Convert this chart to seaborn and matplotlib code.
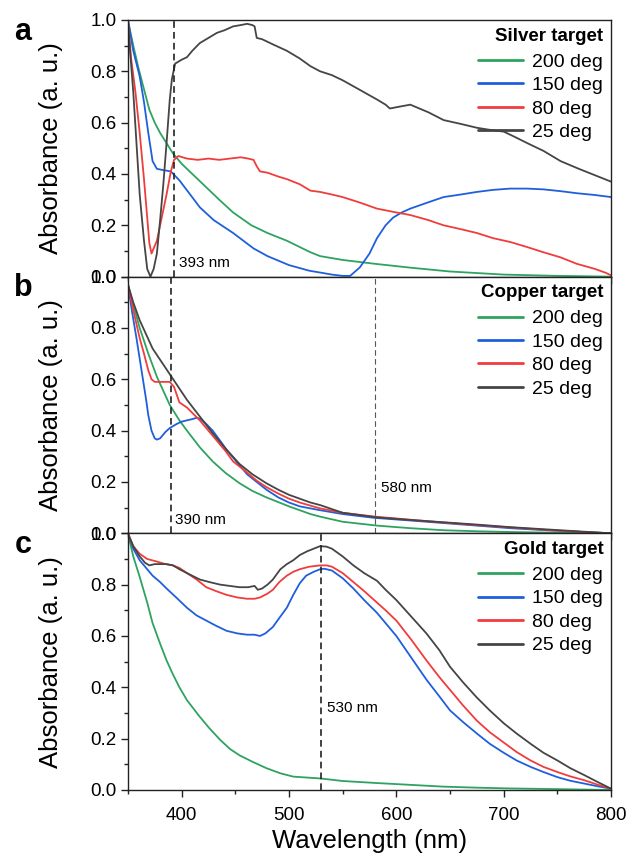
import numpy as np
import pandas as pd
import matplotlib
matplotlib.use("Agg")
import matplotlib.pyplot as plt
import seaborn as sns
from matplotlib.ticker import MultipleLocator, FormatStrFormatter

# --- Silver target ---
ag_x_200 = [350, 355, 360, 365, 370, 375, 380, 386, 392, 400, 410, 420, 435, 448, 465, 480, 498, 520, 529, 550, 580, 613, 650, 700, 750, 800]
ag_y_200 = [1.00, 0.90, 0.81, 0.73, 0.65, 0.60, 0.56, 0.52, 0.48, 0.44, 0.40, 0.36, 0.30, 0.25, 0.20, 0.17, 0.14, 0.095, 0.08, 0.065, 0.05, 0.035, 0.02, 0.008, 0.003, 0.0]

ag_x_150 = [350, 355, 361, 365, 369, 373, 377, 383, 390, 398, 408, 417, 430, 448, 467, 480, 500, 519, 529, 540, 550, 557, 566, 575, 582, 590, 597, 605, 613, 630, 644, 660, 675, 690, 706, 722, 737, 753, 768, 785, 800]
ag_y_150 = [1.00, 0.88, 0.78, 0.68, 0.56, 0.45, 0.42, 0.415, 0.41, 0.375, 0.32, 0.27, 0.22, 0.17, 0.11, 0.08, 0.045, 0.023, 0.016, 0.008, 0.003, 0.003, 0.036, 0.09, 0.15, 0.20, 0.23, 0.25, 0.265, 0.29, 0.31, 0.32, 0.33, 0.338, 0.343, 0.343, 0.34, 0.333, 0.325, 0.318, 0.31]

ag_x_80 = [350, 353, 357, 361, 365, 368, 370, 372, 374, 377, 381, 386, 390, 393, 397, 405, 415, 425, 435, 445, 455, 462, 467, 470, 473, 480, 490, 498, 510, 520, 529, 540, 550, 565, 582, 600, 613, 630, 644, 660, 675, 690, 706, 722, 737, 753, 768, 785, 795, 800]
ag_y_80 = [1.00, 0.85, 0.72, 0.56, 0.38, 0.23, 0.13, 0.09, 0.11, 0.14, 0.22, 0.32, 0.41, 0.455, 0.47, 0.46, 0.455, 0.46, 0.455, 0.46, 0.465, 0.46, 0.455, 0.43, 0.41, 0.405, 0.39, 0.38, 0.36, 0.335, 0.33, 0.32, 0.31, 0.29, 0.265, 0.25, 0.24, 0.22, 0.20, 0.185, 0.17, 0.15, 0.135, 0.115, 0.095, 0.075, 0.05, 0.03, 0.015, 0.005]

ag_x_25 = [350, 352, 355, 358, 361, 365, 368, 371, 374, 377, 380, 383, 386, 389, 391, 394, 400, 405, 410, 417, 425, 433, 440, 448, 455, 461, 466, 468, 470, 475, 485, 498, 510, 520, 529, 540, 550, 565, 582, 590, 594, 600, 613, 630, 644, 660, 675, 690, 700, 710, 722, 737, 753, 770, 785, 800]
ag_y_25 = [1.00, 0.88, 0.72, 0.52, 0.32, 0.14, 0.03, 0.0, 0.03, 0.09, 0.22, 0.36, 0.52, 0.69, 0.77, 0.83, 0.845, 0.855, 0.88, 0.91, 0.93, 0.95, 0.96, 0.975, 0.98, 0.985, 0.98, 0.975, 0.93, 0.925, 0.905, 0.88, 0.85, 0.82, 0.80, 0.785, 0.765, 0.73, 0.69, 0.67, 0.655, 0.66, 0.67, 0.64, 0.61, 0.595, 0.58, 0.57, 0.565, 0.545, 0.52, 0.49, 0.45, 0.42, 0.395, 0.37]

# --- Copper target ---
cu_x_200 = [350, 355, 361, 369, 377, 389, 398, 405, 417, 429, 441, 454, 466, 479, 500, 520, 529, 550, 582, 613, 644, 675, 706, 740, 770, 800]
cu_y_200 = [0.97, 0.89, 0.80, 0.70, 0.61, 0.50, 0.44, 0.40, 0.335, 0.28, 0.235, 0.195, 0.165, 0.14, 0.105, 0.075, 0.065, 0.045, 0.03, 0.02, 0.012, 0.008, 0.005, 0.003, 0.001, 0.0]

cu_x_150 = [350, 354, 358, 361, 364, 367, 369, 372, 375, 377, 380, 385, 389, 395, 400, 405, 410, 414, 418, 422, 429, 436, 442, 448, 455, 461, 470, 479, 490, 500, 510, 529, 550, 580, 613, 644, 675, 706, 740, 770, 800]
cu_y_150 = [0.97, 0.86, 0.76, 0.68, 0.60, 0.52, 0.46, 0.40, 0.37, 0.365, 0.37, 0.395, 0.41, 0.425, 0.435, 0.44, 0.445, 0.45, 0.445, 0.43, 0.40, 0.36, 0.325, 0.295, 0.26, 0.23, 0.20, 0.17, 0.14, 0.12, 0.105, 0.09, 0.075, 0.06, 0.05, 0.04, 0.03, 0.02, 0.012, 0.006, 0.0]

cu_x_80 = [350, 355, 361, 365, 369, 372, 375, 380, 385, 389, 393, 398, 405, 417, 429, 441, 448, 460, 470, 479, 490, 500, 510, 529, 550, 580, 613, 644, 675, 706, 740, 770, 800]
cu_y_80 = [0.97, 0.87, 0.76, 0.70, 0.635, 0.60, 0.59, 0.59, 0.59, 0.59, 0.57, 0.51, 0.49, 0.44, 0.38, 0.32, 0.28, 0.24, 0.205, 0.18, 0.155, 0.135, 0.12, 0.097, 0.08, 0.065, 0.053, 0.042, 0.032, 0.023, 0.013, 0.006, 0.0]

cu_x_25 = [350, 355, 361, 367, 373, 381, 389, 397, 405, 417, 429, 441, 454, 466, 479, 490, 500, 510, 520, 529, 550, 582, 613, 644, 675, 706, 737, 768, 800]
cu_y_25 = [0.97, 0.90, 0.83, 0.775, 0.72, 0.67, 0.62, 0.57, 0.52, 0.455, 0.39, 0.33, 0.27, 0.23, 0.195, 0.17, 0.15, 0.135, 0.12, 0.11, 0.08, 0.062, 0.052, 0.043, 0.034, 0.024, 0.016, 0.008, 0.0]

# --- Gold target ---
au_x_200 = [350, 355, 361, 368, 373, 380, 386, 392, 398, 405, 417, 426, 436, 445, 454, 466, 479, 492, 504, 529, 550, 582, 613, 644, 675, 706, 740, 770, 800]
au_y_200 = [1.0, 0.91, 0.83, 0.73, 0.65, 0.57, 0.505, 0.45, 0.40, 0.35, 0.285, 0.24, 0.195, 0.16, 0.135, 0.11, 0.085, 0.065, 0.052, 0.045, 0.035, 0.027, 0.02, 0.013, 0.009, 0.006, 0.004, 0.002, 0.0]

au_x_150 = [350, 355, 361, 367, 373, 380, 386, 395, 405, 414, 423, 432, 442, 452, 461, 468, 473, 478, 485, 491, 498, 504, 510, 516, 523, 529, 533, 540, 550, 560, 570, 582, 590, 600, 614, 628, 640, 650, 662, 675, 687, 700, 712, 725, 737, 750, 762, 775, 788, 800]
au_y_150 = [1.0, 0.94, 0.895, 0.865, 0.835, 0.81, 0.785, 0.75, 0.71, 0.68, 0.66, 0.64, 0.62, 0.61, 0.605, 0.605, 0.60, 0.61, 0.635, 0.67, 0.71, 0.76, 0.805, 0.835, 0.85, 0.86, 0.862, 0.855, 0.825, 0.785, 0.74, 0.69, 0.65, 0.60, 0.515, 0.43, 0.365, 0.31, 0.265, 0.22, 0.18, 0.145, 0.115, 0.09, 0.07, 0.05, 0.036, 0.025, 0.014, 0.005]

au_x_80 = [350, 355, 361, 368, 377, 385, 392, 398, 405, 414, 423, 432, 442, 452, 461, 468, 473, 480, 485, 491, 498, 504, 510, 519, 529, 535, 540, 550, 560, 570, 582, 590, 600, 614, 628, 640, 650, 662, 675, 687, 700, 712, 725, 737, 750, 762, 775, 788, 800]
au_y_80 = [1.0, 0.95, 0.92, 0.90, 0.89, 0.88, 0.875, 0.865, 0.845, 0.82, 0.79, 0.775, 0.76, 0.75, 0.745, 0.745, 0.75, 0.765, 0.78, 0.81, 0.835, 0.85, 0.86, 0.87, 0.875, 0.875, 0.87, 0.845, 0.81, 0.775, 0.73, 0.70, 0.66, 0.585, 0.505, 0.44, 0.39, 0.33, 0.27, 0.225, 0.185, 0.148, 0.115, 0.09, 0.07, 0.053, 0.038, 0.02, 0.005]

au_x_25 = [350, 355, 361, 366, 370, 375, 380, 386, 392, 398, 405, 417, 426, 436, 445, 454, 462, 468, 471, 475, 480, 485, 492, 498, 504, 510, 517, 523, 529, 535, 540, 550, 560, 570, 582, 590, 600, 614, 628, 640, 650, 662, 675, 687, 700, 712, 725, 737, 750, 762, 775, 788, 800]
au_y_25 = [1.0, 0.95, 0.91, 0.885, 0.875, 0.88, 0.88, 0.88, 0.875, 0.86, 0.845, 0.82, 0.81, 0.80, 0.795, 0.79, 0.79, 0.795, 0.78, 0.785, 0.80, 0.82, 0.86, 0.88, 0.895, 0.915, 0.93, 0.94, 0.95, 0.948, 0.94, 0.91, 0.875, 0.845, 0.815, 0.78, 0.74, 0.675, 0.61, 0.545, 0.48, 0.42, 0.36, 0.31, 0.26, 0.22, 0.18, 0.145, 0.115, 0.085, 0.058, 0.03, 0.005]

labels = ["200 deg", "150 deg", "80 deg", "25 deg"]
colors = ["#2ea35f", "#1f5fdc", "#f03c3c", "#454545"]

panels = [
    ("a", "Silver target", [(ag_x_200, ag_y_200), (ag_x_150, ag_y_150), (ag_x_80, ag_y_80), (ag_x_25, ag_y_25)]),
    ("b", "Copper target", [(cu_x_200, cu_y_200), (cu_x_150, cu_y_150), (cu_x_80, cu_y_80), (cu_x_25, cu_y_25)]),
    ("c", "Gold target", [(au_x_200, au_y_200), (au_x_150, au_y_150), (au_x_80, au_y_80), (au_x_25, au_y_25)]),
]

sns.set_style("ticks")
plt.rcParams["font.family"] = ["Liberation Sans", "DejaVu Sans"]
plt.rcParams["text.color"] = "black"
plt.rcParams["axes.labelcolor"] = "black"
plt.rcParams["xtick.color"] = "black"
plt.rcParams["ytick.color"] = "black"

fig, axes = plt.subplots(3, 1, figsize=(6.3, 8.57), dpi=100, sharex=True)
fig.subplots_adjust(left=0.203, right=0.970, top=0.9767, bottom=0.0782, hspace=0)

for ax, (letter, title, series) in zip(axes, panels):
    for (x, y), lab, col in zip(series, labels, colors):
        sns.lineplot(x=x, y=y, ax=ax, color=col, linewidth=1.3, label=lab, sort=False)
    ax.set_xlim(350, 800)
    ax.set_ylim(0, 1.0)
    ax.xaxis.set_major_locator(MultipleLocator(100))
    ax.xaxis.set_minor_locator(MultipleLocator(50))
    ax.yaxis.set_major_locator(MultipleLocator(0.2))
    ax.yaxis.set_minor_locator(MultipleLocator(0.1))
    ax.yaxis.set_major_formatter(FormatStrFormatter("%.1f"))
    ax.tick_params(axis="both", which="major", direction="out", length=5, width=1,
                   labelsize=13.5, pad=3, color="#222222")
    ax.tick_params(axis="x", which="major", pad=7)
    ax.tick_params(axis="both", which="minor", direction="out", length=3, width=1, color="#222222")
    for s in ax.spines.values():
        s.set_linewidth(1.0)
        s.set_color("#222222")
    ax.set_ylabel("Absorbance (a. u.)", fontsize=18.5)
    ax.yaxis.set_label_coords(-0.135, 0.5)
    ax.set_xlabel("")
    leg = ax.legend(title=title, loc="upper right", frameon=False, fontsize=14,
                    title_fontproperties={"weight": "bold", "size": 13.5},
                    handlelength=2.3, handletextpad=0.5, labelspacing=0.3,
                    borderaxespad=0.2, borderpad=0.2)
    leg._legend_box.align = "right"
    leg._legend_box.sep = 6
    for h in leg.get_lines():
        h.set_linewidth(2.0)
    ax.text(-0.235, 0.955, letter, transform=ax.transAxes, fontsize=22, fontweight="bold",
            ha="left", va="center")

ax_a, ax_b, ax_c = axes
ax_a.axvline(393, color="#222222", linestyle=(0, (4, 2.5)), linewidth=1.2)
ax_a.text(398, 0.055, "393 nm", fontsize=11, va="center")
ax_b.axvline(390, color="#222222", linestyle=(0, (4, 2.5)), linewidth=1.2)
ax_b.text(394, 0.05, "390 nm", fontsize=11, va="center")
ax_b.axvline(580, color="#555555", linestyle=(0, (5, 3)), linewidth=0.8)
ax_b.text(586, 0.175, "580 nm", fontsize=11, va="center")
ax_c.axvline(530, color="#222222", linestyle=(0, (4, 2.5)), linewidth=1.2)
ax_c.text(535, 0.32, "530 nm", fontsize=11, va="center")

ax_c.set_xlabel("Wavelength (nm)", fontsize=18.5, labelpad=4)

fig.savefig("out.png", dpi=100, facecolor="white")
